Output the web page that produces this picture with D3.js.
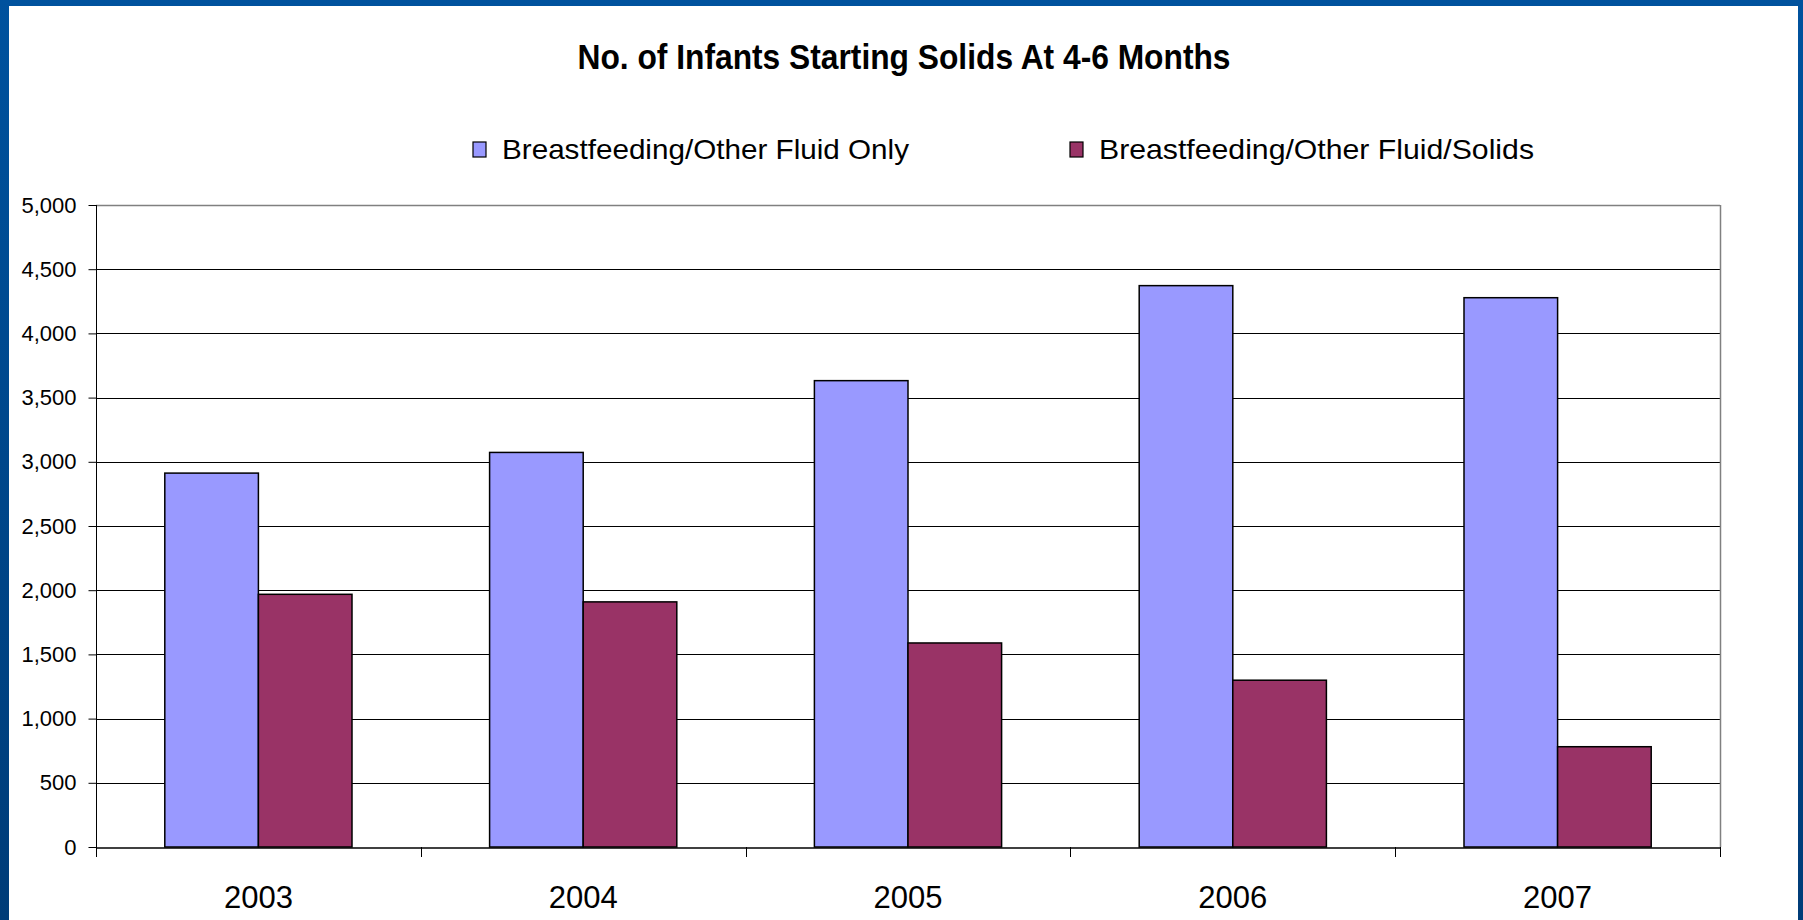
<!DOCTYPE html>
<html>
<head>
<meta charset="utf-8">
<script src="https://cdn.jsdelivr.net/npm/d3@7"></script>
<style>
  body { margin: 0; background: #ffffff; }
  svg { display: block; font-family: "Liberation Sans", Arial, sans-serif; }
</style>
</head>
<body>
<div id="chart"></div>
<script>
// Chart data
const years = ["2003", "2004", "2005", "2006", "2007"];
const seriesNames = ["Breastfeeding/Other Fluid Only", "Breastfeeding/Other Fluid/Solids"];
const fluidOnly = [2912, 3073, 3632, 4372, 4278];
const fluidSolids = [1968, 1909, 1589, 1299, 781];
const yTicks = [0, 500, 1000, 1500, 2000, 2500, 3000, 3500, 4000, 4500, 5000];
const colors = ["#9999FF", "#993366"];

const W = 1803, H = 920;
const plot = { left: 96, right: 1720, top: 205, bottom: 847 };

const svg = d3.select("#chart").append("svg")
    .attr("width", W)
    .attr("height", H);

// Blue slide frame
const grad = svg.append("defs").append("linearGradient")
    .attr("id", "frame").attr("x1", 0).attr("y1", 0).attr("x2", 0).attr("y2", 1);
grad.append("stop").attr("offset", "0%").attr("stop-color", "#00529E");
grad.append("stop").attr("offset", "100%").attr("stop-color", "#003C78");
svg.append("rect").attr("width", W).attr("height", H).attr("fill", "url(#frame)");
svg.append("rect")
    .attr("x", 9).attr("y", 6)
    .attr("width", 1798 - 9).attr("height", H - 6)
    .attr("fill", "#ffffff");

// Scales
const x0 = d3.scaleBand()
    .domain(years)
    .range([plot.left, plot.right])
    .paddingInner(0)
    .paddingOuter(0);

const x1 = d3.scaleBand()
    .domain([0, 1])
    .range([0, x0.bandwidth()])
    .paddingInner(0)
    .paddingOuter(0.735);

const y = d3.scaleLinear()
    .domain([0, 5000])
    .range([plot.bottom, plot.top]);

// Gridlines
svg.append("g")
    .selectAll("line")
    .data(yTicks.filter(d => d > 0))
    .join("line")
    .attr("x1", plot.left)
    .attr("x2", plot.right)
    .attr("y1", d => Math.round(y(d)) + 0.5)
    .attr("y2", d => Math.round(y(d)) + 0.5)
    .attr("stroke", "#000")
    .attr("stroke-width", 1);

// Plot area border (top and right)
svg.append("line")
    .attr("x1", plot.right + 0.5).attr("x2", plot.right + 0.5)
    .attr("y1", plot.top).attr("y2", plot.bottom)
    .attr("stroke", "#808080")
    .attr("stroke-width", 1.5);
svg.append("line")
    .attr("x1", plot.left).attr("x2", plot.right)
    .attr("y1", plot.top + 0.5).attr("y2", plot.top + 0.5)
    .attr("stroke", "#808080")
    .attr("stroke-width", 1.5);

// Bars
const rows = years.map((yr, i) => ({ year: yr, values: [fluidOnly[i], fluidSolids[i]] }));

const groups = svg.append("g")
    .selectAll("g")
    .data(rows)
    .join("g")
    .attr("transform", d => `translate(${x0(d.year)},0)`);

groups.selectAll("rect")
    .data(d => d.values.map((v, k) => ({ k, v })))
    .join("rect")
    .attr("x", d => x1(d.k))
    .attr("y", d => y(d.v))
    .attr("width", x1.bandwidth())
    .attr("height", d => y(0) - y(d.v))
    .attr("fill", d => colors[d.k])
    .attr("stroke", "#000")
    .attr("stroke-width", 1.5);

// Y axis
const yAxis = svg.append("g")
    .attr("transform", `translate(${plot.left + 0.5},0)`)
    .call(d3.axisLeft(y)
        .tickValues(yTicks)
        .tickSize(8)
        .tickPadding(12)
        .tickFormat(d3.format(",")));
yAxis.select(".domain").attr("stroke", "#000").attr("d", `M0,${plot.top}V${plot.bottom + 10}`);
yAxis.selectAll(".tick line").attr("stroke", "#000");
yAxis.selectAll("text")
    .attr("fill", "#000")
    .style("font-size", "22px");

// X axis
const xAxis = svg.append("g")
    .attr("transform", `translate(0,${plot.bottom + 0.5})`)
    .call(d3.axisBottom(x0).tickSize(0).tickPadding(38));
xAxis.select(".domain").attr("stroke", "#000").attr("stroke-width", 1.5);
xAxis.selectAll("text")
    .attr("fill", "#000")
    .style("font-size", "31px");

// Category separator ticks
svg.append("g")
    .selectAll("line")
    .data(years.slice(1).concat(["end"]))
    .join("line")
    .attr("x1", d => d === "end" ? plot.right + 0.5 : Math.round(x0(d)) + 0.5)
    .attr("x2", d => d === "end" ? plot.right + 0.5 : Math.round(x0(d)) + 0.5)
    .attr("y1", plot.bottom)
    .attr("y2", plot.bottom + 10)
    .attr("stroke", "#000");

// Title
svg.append("text")
    .attr("x", 904)
    .attr("y", 69)
    .attr("text-anchor", "middle")
    .attr("textLength", 653)
    .attr("lengthAdjust", "spacingAndGlyphs")
    .style("font-size", "35px")
    .style("font-weight", "bold")
    .text("No. of Infants Starting Solids At 4-6 Months");

// Legend
const legendX = [473, 1070];
const legendW = [407, 435];
const legend = svg.append("g")
    .selectAll("g")
    .data(seriesNames)
    .join("g")
    .attr("transform", (d, i) => `translate(${legendX[i]},142)`);

legend.append("rect")
    .attr("width", 13)
    .attr("height", 15)
    .attr("fill", (d, i) => colors[i])
    .attr("stroke", "#000")
    .attr("stroke-width", 1.2);

legend.append("text")
    .attr("x", 29)
    .attr("y", 17)
    .attr("textLength", (d, i) => legendW[i])
    .attr("lengthAdjust", "spacingAndGlyphs")
    .style("font-size", "28px")
    .text(d => d);
</script>
</body>
</html>
